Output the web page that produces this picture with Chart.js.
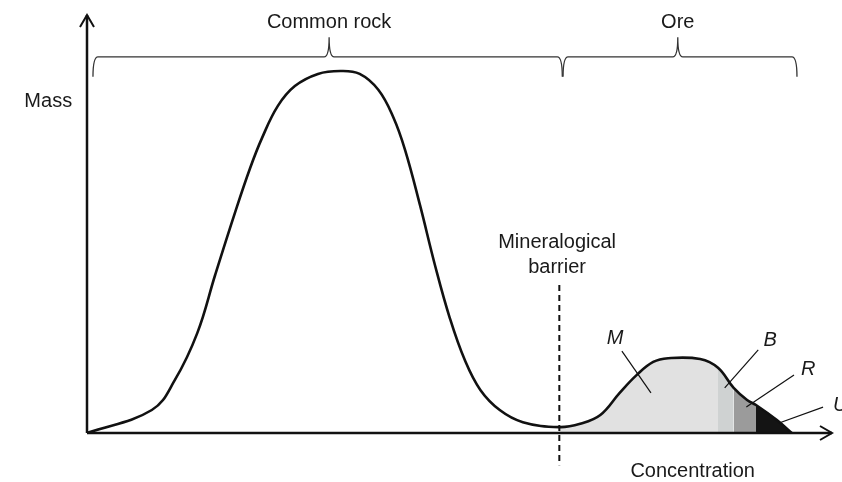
<!DOCTYPE html>
<html>
<head>
<meta charset="utf-8">
<script src="https://cdn.jsdelivr.net/npm/chart.js@4"></script>
<style>
  html, body { margin: 0; padding: 0; background: #fff; }
  #wrap { width: 842px; height: 482px; }
</style>
</head>
<body>
<div id="wrap"><canvas id="c" width="842" height="482"></canvas></div>
<script>
// Mass distribution over concentration (arbitrary units, 0..100 on both axes)
const curveX = [0, 8.7, 11.8, 14.8, 17.2, 19.9, 21.9, 23.5, 25.6, 27.9, 31.0, 34.0, 36.6, 39.1,
  41.1, 42.7, 44.7, 46.7, 48.7, 50.7, 52.8, 55.4, 58.5, 63.4, 66.2, 68.9, 71.5, 73.8, 76.0,
  78.0, 82.3, 84.7, 86.8, 88.6, 89.8, 92.6, 94.6];
const curveY = [0, 5.5, 12.7, 23.9, 37.8, 52.9, 63.4, 70.6, 78.2, 83.0, 85.9, 86.6, 85.9, 82.1,
  75.6, 67.7, 54.5, 40.2, 27.5, 17.5, 10.3, 5.5, 2.6, 1.4, 2.2, 4.3, 9.6, 13.9, 17.0,
  17.9, 17.7, 15.6, 10.8, 7.9, 6.7, 3.1, 0];

// ore bands under the right hump
const bandNames = ['M', 'B', 'R', 'U'];
const bandEdges = [63.4, 84.7, 86.8, 89.8, 94.6];
const bandColours = ['#e1e1e1', '#cfd2d2', '#9b9b9b', '#141414'];

// annotation positions (data units)
const barrierX = 63.4;
const rockBrace = [0.8, 63.8, 32.5];   // start, end, tip
const oreBrace = [63.9, 95.3, 79.3];
const bandLabels = [[70.9, 22.7], [91.7, 22.2], [96.8, 15.1], [100.8, 6.7]];
const leaders = [
  [71.8, 19.6, 75.7, 9.6],
  [90.1, 19.9, 85.6, 10.8],
  [94.9, 13.9, 88.5, 6.2],
  [98.8, 6.2, 92.9, 2.4],
];

const FONT = "20px 'Liberation Sans', Arial, sans-serif";
const FONT_IT = "italic 20px 'Liberation Sans', Arial, sans-serif";

const curvePts = curveX.map((x, i) => ({ x, y: curveY[i] }));

const bandSets = bandNames.map((name, b) => ({
  label: name,
  data: curveX.map((x, i) => ({
    x,
    y: (x >= bandEdges[b] && x <= bandEdges[b + 1]) ? curveY[i] : null,
  })),
  borderWidth: 0,
  borderColor: 'transparent',
  backgroundColor: bandColours[b],
  fill: 'origin',
  pointRadius: 0,
  spanGaps: false,
  tension: 0.4,
  order: 2,
}));

const diagram = {
  id: 'diagram',
  afterDatasetsDraw(chart) {
    const ctx = chart.ctx;
    const sx = chart.scales.x, sy = chart.scales.y;
    const px = v => sx.getPixelForValue(v);
    const py = v => sy.getPixelForValue(v);
    ctx.save();

    // axes with open arrowheads
    const x0 = px(0), y0 = py(0), xt = px(100), yt = py(100);
    ctx.strokeStyle = '#111';
    ctx.lineWidth = 2.5;
    ctx.beginPath();
    ctx.moveTo(x0, y0); ctx.lineTo(x0, yt);
    ctx.moveTo(x0, y0); ctx.lineTo(xt, y0);
    ctx.stroke();
    ctx.lineWidth = 2;
    ctx.beginPath();
    ctx.moveTo(x0 - 7, yt + 12); ctx.lineTo(x0, yt); ctx.lineTo(x0 + 7, yt + 12);
    ctx.moveTo(xt - 12, y0 - 7); ctx.lineTo(xt, y0); ctx.lineTo(xt - 12, y0 + 7);
    ctx.stroke();

    // mineralogical barrier
    ctx.lineWidth = 2;
    ctx.setLineDash([6, 4]);
    ctx.beginPath();
    ctx.moveTo(px(barrierX), py(35.4));
    ctx.lineTo(px(barrierX), py(-7.7));
    ctx.stroke();
    ctx.setLineDash([]);

    // braces
    const brace = (a, b, m) => {
      const yl = py(90), ye = py(85.2), ytip = py(94.7);
      const xa = px(a), xb = px(b), xm = px(m);
      ctx.beginPath();
      ctx.moveTo(xa, ye);
      ctx.quadraticCurveTo(xa, yl, xa + 5, yl);
      ctx.lineTo(xm - 5, yl);
      ctx.quadraticCurveTo(xm, yl, xm, ytip);
      ctx.moveTo(xm, ytip);
      ctx.quadraticCurveTo(xm, yl, xm + 5, yl);
      ctx.lineTo(xb - 5, yl);
      ctx.quadraticCurveTo(xb, yl, xb, ye);
      ctx.stroke();
    };
    ctx.strokeStyle = '#333';
    ctx.lineWidth = 1.3;
    brace(...rockBrace);
    brace(...oreBrace);

    // leader lines
    ctx.strokeStyle = '#111';
    ctx.lineWidth = 1.2;
    leaders.forEach(l => {
      ctx.beginPath();
      ctx.moveTo(px(l[0]), py(l[1]));
      ctx.lineTo(px(l[2]), py(l[3]));
      ctx.stroke();
    });

    // texts
    ctx.fillStyle = '#1a1a1a';
    ctx.textBaseline = 'middle';
    ctx.textAlign = 'center';
    ctx.font = FONT;
    ctx.fillText('Common rock', px(rockBrace[2]), py(98.3));
    ctx.fillText('Ore', px(oreBrace[2]), py(98.3));
    ctx.fillText('Mass', px(-5.2), py(79.2));
    ctx.fillText('Mineralogical', px(barrierX - 0.3), py(45.5));
    ctx.fillText('barrier', px(barrierX - 0.3), py(39.5));
    ctx.fillText('Concentration', px(81.3), py(-9.3));
    ctx.font = FONT_IT;
    bandNames.forEach((n, i) => {
      ctx.textAlign = i === 3 ? 'left' : 'center';
      const [lx, ly] = bandLabels[i];
      ctx.fillText(n, px(lx) - (i === 3 ? 5 : 0), py(ly));
    });
    ctx.restore();
  },
};

new Chart(document.getElementById('c'), {
  type: 'line',
  data: {
    datasets: [
      {
        label: 'Mass',
        data: curvePts,
        borderColor: '#111',
        borderWidth: 2.6,
        fill: false,
        pointRadius: 0,
        tension: 0.4,
        order: 0,
      },
      ...bandSets,
    ],
  },
  options: {
    responsive: false,
    animation: false,
    layout: { padding: { left: 87, right: 10, top: 15, bottom: 49 } },
    plugins: { legend: { display: false }, tooltip: { enabled: false } },
    scales: {
      x: { type: 'linear', min: 0, max: 100, display: false },
      y: { type: 'linear', min: 0, max: 100, display: false },
    },
  },
  plugins: [diagram],
});
</script>
</body>
</html>
